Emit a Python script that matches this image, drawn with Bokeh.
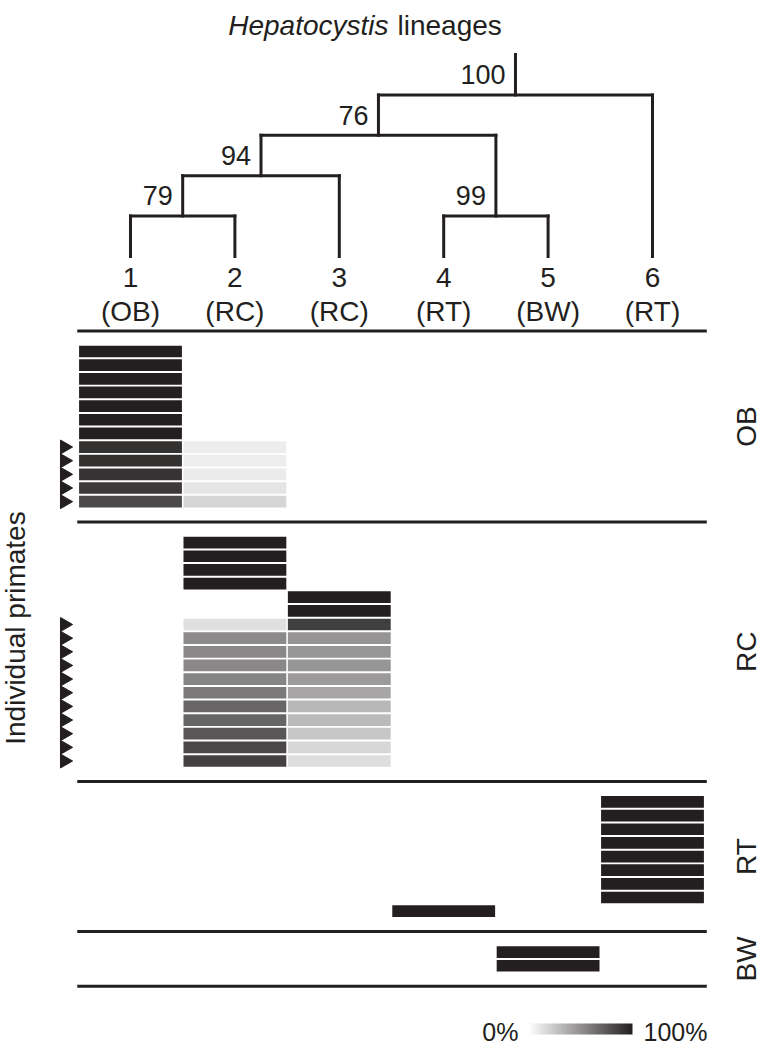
import numpy as np
from bokeh.plotting import figure
from bokeh.models import Range1d, ColumnDataSource, LinearColorMapper, ColorBar, FixedTicker
from bokeh.transform import transform
from bokeh.core.properties import value
from bokeh.embed import file_html
from bokeh.resources import INLINE

# ---------------- data ----------------
lineage_ids = [1, 2, 3, 4, 5, 6]
lineage_hosts = ["OB", "RC", "RC", "RT", "BW", "RT"]

# tree: internal nodes, their children (tip ids or node names), heights, support
node_names = ["n79", "n99", "n94", "n76", "root"]
node_children = [[1, 2], [4, 5], ["n79", 3], ["n94", "n99"], ["n76", 6]]
node_levels = [1, 1, 2, 3, 4]
node_support = [79, 99, 94, 76, 100]
root_stem_level = 5

# host groups and per-primate lineage proportions (%)
host_groups = ["OB", "RC", "RT", "BW"]
ob_pct = {1: [100, 100, 100, 100, 100, 100, 100, 92, 92, 91, 88, 81],
          2: [0, 0, 0, 0, 0, 0, 0, 8, 8, 9, 12, 19]}
rc_pct = {2: [100, 100, 100, 100, 0, 0, 14, 52, 53, 53, 55, 60, 68, 69, 75, 82, 85],
          3: [0, 0, 0, 0, 100, 100, 86, 48, 47, 47, 45, 40, 32, 31, 25, 18, 15]}
rt_pct = {4: [0, 0, 0, 0, 0, 0, 0, 0, 100],
          6: [100, 100, 100, 100, 100, 100, 100, 100, 0]}
bw_pct = {5: [100, 100]}
group_pct = [ob_pct, rc_pct, rt_pct, bw_pct]

legend_low, legend_high = 0, 100
legend_labels = ["0%", "100%"]

title_italic = "Hepatocystis"
title_rest = "lineages"
ylabel = "Individual primates"

# ---------------- style / layout ----------------
INK = "#231f20"
FONT = value("Liberation Sans")
GAP_ROWS = 2

def hexcol(r, g, b):
    return "#%02x%02x%02x" % (int(round(r)), int(round(g)), int(round(b)))

palette = [hexcol(255 + (35 - 255) * t, 255 + (31 - 255) * t, 255 + (32 - 255) * t)
           for t in np.linspace(0, 1, 256)]
mapper = LinearColorMapper(palette=palette, low=legend_low, high=legend_high)

p = figure(width=766, height=1050,
           x_range=Range1d(-0.2452, 7.0920),
           y_range=Range1d(51.209, -25.714),
           x_axis_type=None, y_axis_type=None,
           toolbar_location=None, output_backend="svg",
           min_border=0, outline_line_color=None)
p.background_fill_color = "white"
p.border_fill_color = "white"
p.extra_y_ranges = {"tree": Range1d(-19.653, 6.3366)}

# ---------------- matrix ----------------
cell_x, cell_y, cell_v = [], [], []
arrow_rows = []
sep_y = []
group_centers = []
start = 0
for grp, pct in zip(host_groups, group_pct):
    n = len(next(iter(pct.values())))
    for i in range(n):
        row = start + i
        nz = 0
        for lin, vals in pct.items():
            if vals[i] > 0:
                cell_x.append(lin)
                cell_y.append(row)
                cell_v.append(vals[i])
                nz += 1
        if nz > 1:
            arrow_rows.append(row)
    sep_y.append(start - 1.5)
    group_centers.append(start + (n - 1) / 2)
    end = start + n - 1
    start = end + 1 + GAP_ROWS
sep_y.append(end + 1.5)

cells = ColumnDataSource(dict(x=cell_x, y=cell_y, v=cell_v))
p.rect(x="x", y="y", width=0.985, height=0.86, source=cells,
       fill_color=transform("v", mapper), line_color=None)

# separators
p.segment(x0=[0.49] * len(sep_y), x1=[6.52] * len(sep_y), y0=sep_y, y1=sep_y,
          line_color=INK, line_width=3)

# arrows marking mixed infections
p.scatter(x=[0.368] * len(arrow_rows), y=arrow_rows, marker="triangle",
          size=14, angle=-np.pi / 2, color=INK)

# group labels on right
p.text(x=[6.90] * len(host_groups), y=group_centers, text=host_groups,
       angle=np.pi / 2, text_align="center", text_baseline="middle",
       text_font=FONT, text_font_size="28px", text_color=INK)

# y label
p.text(x=[-0.1015], y=[20.26], text=[ylabel], angle=np.pi / 2,
       text_align="center", text_baseline="middle",
       text_font=FONT, text_font_size="28px", text_color=INK)

# ---------------- tree ----------------
pos = {t: (float(t), 0.0) for t in lineage_ids}
hx0, hx1, hy = [], [], []
vx, vy0, vy1 = [], [], []
for name, ch, lev in zip(node_names, node_children, node_levels):
    xs = [pos[c][0] for c in ch]
    nx = sum(xs) / len(xs)
    pos[name] = (nx, float(lev))
    hx0.append(min(xs)); hx1.append(max(xs)); hy.append(lev)
    for c in ch:
        vx.append(pos[c][0]); vy0.append(pos[c][1]); vy1.append(lev)
root_x = pos["root"][0]
vx.append(root_x); vy0.append(node_levels[-1]); vy1.append(root_stem_level)

p.segment(x0=hx0, x1=hx1, y0=hy, y1=hy, line_color=INK, line_width=3,
          line_cap="square", y_range_name="tree")
p.segment(x0=vx, x1=vx, y0=vy0, y1=vy1, line_color=INK, line_width=3,
          line_cap="square", y_range_name="tree")

# support values
p.text(x=[pos[n][0] for n in node_names],
       y=[pos[n][1] + 0.5 for n in node_names],
       text=[str(s) for s in node_support], x_offset=-10,
       text_align="right", text_baseline="middle",
       text_font=FONT, text_font_size="27px", text_color=INK,
       y_range_name="tree")

# tip labels
p.text(x=lineage_ids, y=[-0.52] * len(lineage_ids),
       text=[str(t) for t in lineage_ids],
       text_align="center", text_baseline="middle",
       text_font=FONT, text_font_size="28px", text_color=INK,
       y_range_name="tree")
p.text(x=lineage_ids, y=[-1.36] * len(lineage_ids),
       text=["(%s)" % h for h in lineage_hosts],
       text_align="center", text_baseline="middle",
       text_font=FONT, text_font_size="28px", text_color=INK,
       y_range_name="tree")

# title
p.text(x=[3.4713], y=[5.718], text=[title_italic], text_align="right",
       text_baseline="alphabetic", text_font=FONT, text_font_style="italic",
       text_font_size="28px", text_color=INK, y_range_name="tree")
p.text(x=[3.5575], y=[5.718], text=[title_rest], text_align="left",
       text_baseline="alphabetic", text_font=FONT,
       text_font_size="28px", text_color=INK, y_range_name="tree")

# ---------------- legend ----------------
cb = ColorBar(color_mapper=mapper, orientation="horizontal",
              location=(528, 16), width=104, height=11, padding=0, margin=0,
              ticker=FixedTicker(ticks=[]),
              major_tick_line_color=None,
              minor_tick_line_color=None, bar_line_color=None,
              border_line_color=None, background_fill_alpha=0)
p.add_layout(cb, "center")
p.text(x=[4.7165], y=[49.82], text=[legend_labels[0]], text_align="right",
       text_baseline="middle", text_font=FONT, text_font_size="25px", text_color=INK)
p.text(x=[5.9138], y=[49.82], text=[legend_labels[1]], text_align="left",
       text_baseline="middle", text_font=FONT, text_font_size="25px", text_color=INK)

open("out.html", "w").write(file_html(p, INLINE))
